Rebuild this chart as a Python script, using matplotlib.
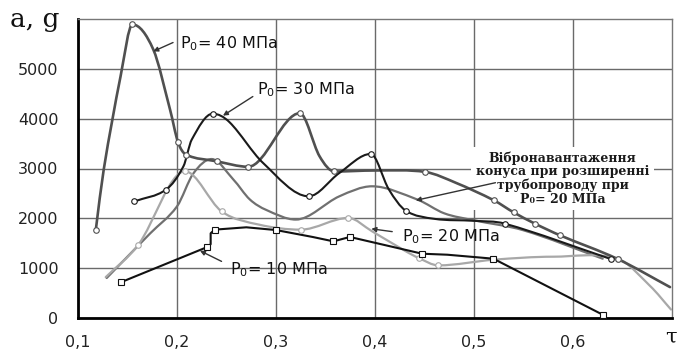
import matplotlib
matplotlib.use('Agg')
import matplotlib.pyplot as plt
from matplotlib.path import Path
from matplotlib.patches import PathPatch
import numpy as np

plt.rcParams['font.family'] = ['DejaVu Sans']
plt.rcParams['mathtext.fontset'] = 'dejavusans'

# values: tau (-) vs acceleration (g)
tau_40 = [0.118, 0.126, 0.143, 0.155, 0.176, 0.193, 0.201, 0.209, 0.240, 0.272,
          0.324, 0.344, 0.359, 0.400, 0.451, 0.482, 0.520, 0.540, 0.5615, 0.587,
          0.645, 0.698]
acc_40 = [1770, 2980, 4850, 5890, 5390, 4180, 3530, 3280, 3145, 3035,
          4110, 3245, 2940, 2960, 2930, 2710, 2362, 2120, 1894, 1658,
          1185, 620]
mark_40 = [0, 3, 6, 7, 8, 9, 10, 12, 14, 16, 17, 18, 19, 20]

tau_30 = [0.157, 0.189, 0.2065, 0.2149, 0.236, 0.253, 0.287, 0.333, 0.364, 0.3957,
          0.414, 0.431, 0.460, 0.500, 0.531, 0.638]
acc_30 = [2340, 2577, 3044, 3580, 4100, 3930, 3110, 2442, 2910, 3293,
          2580, 2155, 1990, 1950, 1894, 1185]
mark_30 = [0, 1, 4, 7, 9, 11, 14, 15]

tau_20 = [0.128, 0.161, 0.208, 0.245, 0.283, 0.325, 0.373, 0.397, 0.431, 0.444,
          0.464, 0.520, 0.580, 0.645, 0.678, 0.699]
acc_20 = [820, 1472, 2944, 2140, 1873, 1773, 2008, 1740, 1340, 1205,
          1056, 1170, 1230, 1190, 640, 170]
mark_20 = [1, 2, 3, 5, 6, 9, 10, 13]

tau_10 = [0.143, 0.2298, 0.234, 0.234, 0.238, 0.270, 0.300, 0.337, 0.358, 0.3746,
          0.4476, 0.473, 0.5196, 0.630]
acc_10 = [715, 1418, 1480, 1700, 1773, 1820, 1765, 1626, 1538, 1626,
          1290, 1270, 1190, 66]
mark_10 = [0, 1, 4, 6, 8, 9, 10, 12, 13]

tau_vib = [0.129, 0.173, 0.200, 0.2165, 0.235, 0.257, 0.2735, 0.290, 0.320, 0.364,
           0.397, 0.443, 0.470, 0.500, 0.550, 0.630]
acc_vib = [803, 1700, 2240, 2900, 3190, 2777, 2380, 2170, 1975, 2442,
           2643, 2375, 2100, 1960, 1760, 1190]

x_ticks = [0.1, 0.2, 0.3, 0.4, 0.5, 0.6]
x_labels = ['0,1', '0,2', '0,3', '0,4', '0,5', '0,6']
y_ticks = [0, 1000, 2000, 3000, 4000, 5000]
y_labels = ['0', '1000', '2000', '3000', '4000', '5000']


def smooth_path(xs, ys):
    # cubic Hermite through the points (flat at local peaks), as Bezier pieces
    x = np.asarray(xs, float)
    y = np.asarray(ys, float)
    n = len(x)
    m = np.zeros(n)
    m[0] = (y[1] - y[0]) / (x[1] - x[0])
    m[-1] = (y[-1] - y[-2]) / (x[-1] - x[-2])
    for i in range(1, n - 1):
        if (y[i] - y[i - 1]) * (y[i + 1] - y[i]) < 0:
            m[i] = 0.0
        else:
            m[i] = (y[i + 1] - y[i - 1]) / (x[i + 1] - x[i - 1])
    verts = [(x[0], y[0])]
    codes = [Path.MOVETO]
    for i in range(n - 1):
        h = x[i + 1] - x[i]
        verts += [(x[i] + h / 3, y[i] + m[i] * h / 3),
                  (x[i + 1] - h / 3, y[i + 1] - m[i + 1] * h / 3),
                  (x[i + 1], y[i + 1])]
        codes += [Path.CURVE4] * 3
    return Path(verts, codes)


fig = plt.figure(figsize=(6.78, 3.51), dpi=100)
ax = fig.add_axes([78 / 678, 1 - 318 / 351, 594 / 678, 299 / 351])
ax.set_xlim(0.1, 0.7)
ax.set_ylim(0, 6000)

ax.set_xticks(x_ticks)
ax.set_xticklabels(x_labels)
ax.set_yticks(y_ticks)
ax.set_yticklabels(y_labels)
ax.tick_params(length=0, labelsize=11.5, labelcolor='#222222')
ax.tick_params(axis='y', pad=14)
ax.tick_params(axis='x', pad=12)
ax.grid(True, color='#6a6a6a', lw=1.0)
ax.set_axisbelow(True)
for s in ['left', 'bottom']:
    ax.spines[s].set_color('black')
    ax.spines[s].set_linewidth(2.0)
for s in ['top', 'right']:
    ax.spines[s].set_color('#777777')
    ax.spines[s].set_linewidth(1.0)

series = [
    (tau_vib, acc_vib, None, '#707070', 1.6, None, True),
    (tau_20, acc_20, mark_20, '#a8a8a8', 1.6, 'o', True),
    (tau_40, acc_40, mark_40, '#505050', 1.9, 'o', True),
    (tau_30, acc_30, mark_30, '#1a1a1a', 1.5, 'o', True),
    (tau_10, acc_10, mark_10, '#111111', 1.5, 's', False),
]
for xs, ys, marks, col, lw, mk, smooth in series:
    if smooth:
        ax.add_patch(PathPatch(smooth_path(xs, ys), fill=False, edgecolor=col,
                               lw=lw, zorder=3, capstyle='round', joinstyle='round'))
    else:
        ax.plot(xs, ys, color=col, lw=lw, zorder=3)
    if marks is not None:
        ax.plot([xs[i] for i in marks], [ys[i] for i in marks], linestyle='none',
                marker=mk, ms=4, mew=0.8, mfc='white', mec=col, zorder=4)

arrow = dict(arrowstyle='-|>', color='#333333', lw=1.0, mutation_scale=7,
             shrinkA=0, shrinkB=0)
lab = dict(fontsize=11.5, color='#111111', va='center', ha='left')
ax.annotate('', xy=(0.176, 5350), xytext=(0.196, 5528), arrowprops=arrow)
ax.text(0.2031, 5508, r'P$_0$= 40 МПа', **lab)
ax.annotate('', xy=(0.2464, 4060), xytext=(0.2766, 4444), arrowprops=arrow)
ax.text(0.2806, 4584, r'P$_0$= 30 МПа', **lab)
ax.annotate('', xy=(0.3963, 1790), xytext=(0.4174, 1733), arrowprops=arrow)
ax.text(0.4275, 1633, r'P$_0$= 20 МПа', **lab)
ax.annotate('', xy=(0.2232, 1350), xytext=(0.245, 1136), arrowprops=arrow)
ax.text(0.2534, 970, r'P$_0$= 10 МПа', **lab)

ax.text(0.5894, 2797,
        'Вібронавантаження\nконуса при розширенні\nтрубопроводу при\nP\u2080= 20 МПа',
        family='DejaVu Serif', fontweight='bold', fontsize=9, ha='center',
        va='center', linespacing=1.05, color='#1a1a1a', zorder=2.5, clip_on=False,
        bbox=dict(boxstyle='square,pad=0.35', fc='white', ec='none'))
ax.annotate('', xy=(0.4412, 2361), xytext=(0.5217, 2715), arrowprops=arrow, zorder=3)

fig.text(10 / 678, 1 - 27 / 351, 'a, g', family='DejaVu Serif', fontsize=19,
         va='baseline', ha='left', color='#111111')
fig.text(677 / 678, 1 - 343 / 351, '\u03c4', family='DejaVu Serif', fontsize=15,
         va='baseline', ha='right', color='#111111')

fig.savefig('out.png', dpi=100)
